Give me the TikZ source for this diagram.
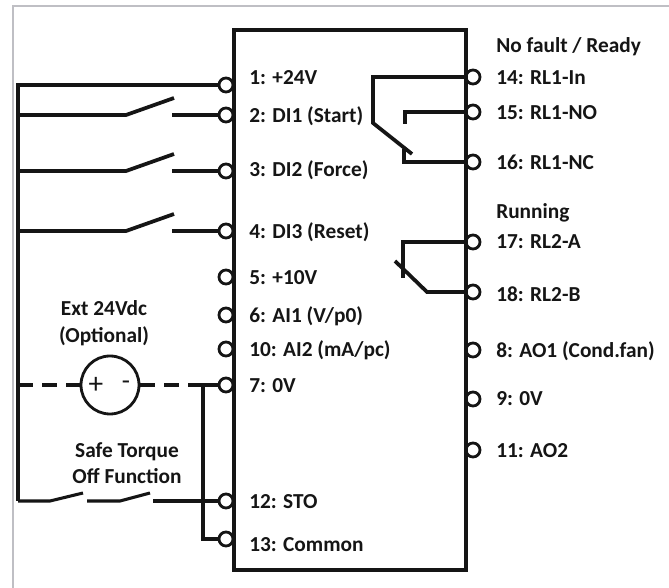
\documentclass[tikz,border=0pt]{standalone}
\usepackage{fontspec}
\setmainfont{Carlito}
\definecolor{ink}{HTML}{151515}
\definecolor{frameedge}{HTML}{BFBFC4}
\tikzset{
  x=0.75pt,y=-0.75pt,
  term/.style={circle,draw=ink,line width=2.1pt,fill=white,minimum size=10.5pt,inner sep=0pt},
  wire/.style={draw=ink,line width=2.8pt,line join=miter},
  thinwire/.style={draw=ink,line width=2.3pt,line join=miter},
  dashwire/.style={draw=ink,line width=2.8pt,dash pattern=on 11pt off 7pt},
  lab/.style={anchor=west,inner sep=0pt,yshift=-0.75pt,text=ink,font=\fontsize{16pt}{18pt}\selectfont\bfseries},
  captext/.style={anchor=center,align=center,inner sep=0pt,yshift=-1pt,text=ink,font=\fontsize{16pt}{20pt}\selectfont\bfseries},
}
\begin{document}
\begin{tikzpicture}
\useasboundingbox (0,0) rectangle (669,588);
\fill[white] (0,0) rectangle (669,588);
\draw[frameedge,line width=1.8pt] (13,588) -- (13,6) -- (669,6);
% terminals left
\foreach \n/\y in {t1/85,t2/115,t3/171,t4/231,t5/277,t6/315,t10/349,t7/385,t12/501,t13/539}
  \node[term] (\n) at (226,\y) {};
% terminals right
\foreach \n/\y in {t14/77,t15/112,t16/162,t17/242,t18/292,t8/350,t9/399,t11/450}
  \node[term] (\n) at (473,\y) {};
% body
\node[draw=ink,line width=3.6pt,fill=white,minimum width=174pt,minimum height=405pt,inner sep=0pt] (drive) at (350,300) {};
% left bus
\coordinate (busT) at (18,85);
\coordinate (busB) at (18,501);
\draw[wire] (t1.west) -- (busT) -- (busB);
% DI switches
\foreach \t/\y in {t2/115,t3/171,t4/231}{
  \coordinate (a\t) at (18,\y);
  \coordinate (b\t) at (126,\y);
  \coordinate (c\t) at (174,\y-17);
  \coordinate (d\t) at (172,\y);
  \draw[wire] (a\t) -- (b\t) -- (c\t);
  \draw[wire] (d\t) -- (\t.west);
}
% Ext supply
\node[circle,draw=ink,line width=2.1pt,minimum size=43.5pt,inner sep=0pt] (ext) at (110,385) {};
\node[inner sep=0pt,text=ink,font=\fontsize{22pt}{22pt}\selectfont] (plus) at (96,385) {+};
\node[inner sep=0pt,text=ink,font=\fontsize{20pt}{20pt}\selectfont] (minus) at (126,385) {-};
\coordinate (extL) at (18,385);
\coordinate (jun) at (203,385);
\draw[dashwire] (extL) -- (ext.west);
\draw[dashwire] (ext.east) -- (jun);
\draw[wire] (jun) -- (t7.west);
\coordinate (junB) at (203,539);
\draw[wire] (jun) -- (junB) -- (t13.west);
% STO
\coordinate (s1) at (50,501);
\coordinate (s2) at (83,493);
\coordinate (s3) at (87,501);
\coordinate (s4) at (120,501);
\coordinate (s5) at (150,493);
\coordinate (s6) at (153,501);
\draw[thinwire] (busB) -- (s1) -- (s2);
\draw[thinwire] (s3) -- (s4) -- (s5);
\draw[thinwire] (s6) -- (t12.west);
% Relay 1
\coordinate (r1a) at (373,77);
\coordinate (r1b) at (373,123);
\coordinate (r1c) at (412,154);
\draw[wire] (t14.west) -- (r1a) -- (r1b) -- (r1c);
\coordinate (r2a) at (405,112);
\coordinate (r2b) at (405,124);
\draw[wire] (t15.west) -- (r2a) -- (r2b);
\coordinate (r3a) at (404,162);
\coordinate (r3b) at (404,149);
\draw[wire] (t16.west) -- (r3a) -- (r3b);
% Relay 2
\coordinate (r4a) at (403,242);
\coordinate (r4b) at (403,278);
\draw[wire] (t17.west) -- (r4a) -- (r4b);
\coordinate (r5a) at (427,292);
\coordinate (r5b) at (395,261);
\draw[wire] (t18.west) -- (r5a) -- (r5b);
% labels left
\node[lab] (l1) at (249,77) {1: +24V};
\node[lab] (l2) at (249,115) {2: DI1 (Start)};
\node[lab] (l3) at (249,169) {3: DI2 (Force)};
\node[lab] (l4) at (249,231) {4: DI3 (Reset)};
\node[lab] (l5) at (249,277) {5: +10V};
\node[lab] (l6) at (249,315) {6: AI1 (V/p0)};
\node[lab] (l10) at (249,349) {10: AI2 (mA/pc)};
\node[lab] (l7) at (249,385) {7: 0V};
\node[lab] (l12) at (249,501) {12: STO};
\node[lab] (l13) at (249,544) {13: Common};
% labels right
\node[lab] (h1) at (496,46) {No fault / Ready};
\node[lab] (l14) at (496,77) {14: RL1-In};
\node[lab] (l15) at (496,112) {15: RL1-NO};
\node[lab] (l16) at (496,161) {16: RL1-NC};
\node[lab] (h2) at (496,212) {Running};
\node[lab] (l17) at (496,241) {17: RL2-A};
\node[lab] (l18) at (496,293) {18: RL2-B};
\node[lab] (l8) at (496,350) {8: AO1 (Cond.fan)};
\node[lab] (l9) at (496,398) {9: 0V};
\node[lab] (l11) at (496,450) {11: AO2};
% captions
\node[captext] (c1) at (104,322) {Ext 24Vdc\\(Optional)};
\node[captext] (c2) at (127,462) {Safe Torque\\Off Function};
\end{tikzpicture}
\end{document}
